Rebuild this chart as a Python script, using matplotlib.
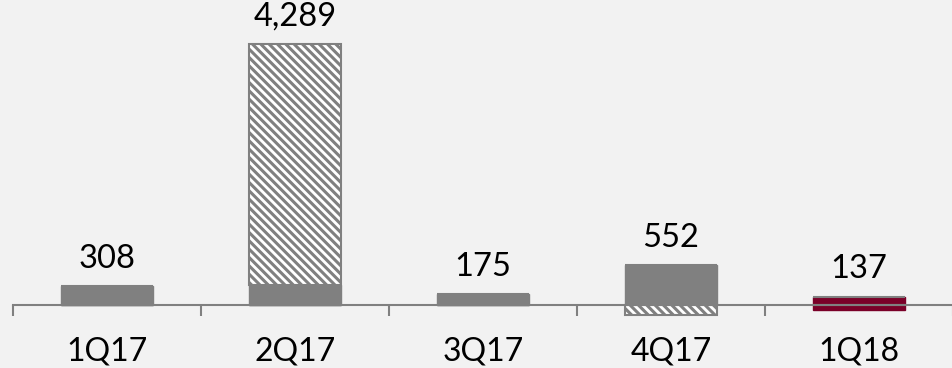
import matplotlib
matplotlib.use("Agg")
import numpy as np
from matplotlib import pyplot as plt

# data
quarters = ["1Q17", "2Q17", "3Q17", "4Q17", "1Q18"]
solid_pos = [308, 330, 175, 655, 137]     # solid part above the axis
hatch_pos = [0, 3959, 0, 0, 0]            # hatched part stacked on top
hatch_neg = [0, 0, 0, -170, 0]            # hatched part below the axis
solid_neg = [0, 0, 0, 0, -85]             # solid part below the axis
totals = [308, 4289, 175, 552, 137]

gray = "#808080"
maroon = "#7a0028"
bg = "#f2f2f2"
colors = [gray, gray, gray, gray, maroon]

plt.rcParams["font.family"] = ["Lato", "DejaVu Sans"]
plt.rcParams["hatch.color"] = "#a8a8a8"
plt.rcParams["hatch.linewidth"] = 2.2

fig = plt.figure(figsize=(9.52, 3.68), dpi=100)
fig.patch.set_facecolor(bg)
ax = fig.add_axes([13 / 952, 0, 940 / 952, 1])
ax.set_facecolor(bg)

x = np.arange(len(quarters))
w = 0.49

ax.bar(x, solid_pos, width=w, color=colors, edgecolor=colors, linewidth=1, zorder=2)
ax.bar(x, solid_neg, width=w, color=colors, edgecolor=colors, linewidth=1, zorder=2)
ax.bar(x, hatch_pos, width=w, bottom=solid_pos, color="white", edgecolor=gray,
       hatch="\\\\\\\\", linewidth=1.5, zorder=2)
ax.bar(x, hatch_neg, width=w, color="white", edgecolor=gray,
       hatch="\\\\\\\\", linewidth=1.5, zorder=2)

tops = [a + b for a, b in zip(solid_pos, hatch_pos)]
for xi, top, t in zip(x, tops, totals):
    ax.annotate(f"{t:,}", (xi, top), xytext=(0, 9), textcoords="offset points",
                ha="center", va="bottom", fontsize=23.5, color="black")

ax.set_xlim(-0.5, len(quarters) - 0.5)
scale = 4289 / 260.5
ax.set_ylim(-63 * scale, (368 - 63) * scale)

for s in ["left", "right", "top"]:
    ax.spines[s].set_visible(False)
ax.spines["bottom"].set_position(("data", 0))
ax.spines["bottom"].set_color(gray)
ax.spines["bottom"].set_linewidth(1.5)
ax.spines["bottom"].set_zorder(5)

ax.set_yticks([])
ax.set_xticks(np.arange(-0.5, len(quarters), 1.0))
ax.set_xticks(x, minor=True)
ax.set_xticklabels([])
ax.set_xticklabels(quarters, minor=True)
ax.tick_params(axis="x", which="major", length=8, width=1.5, color=gray, direction="out")
ax.tick_params(axis="x", which="minor", length=0, pad=23, labelsize=23)

fig.savefig("out.png", dpi=100, facecolor=bg)
